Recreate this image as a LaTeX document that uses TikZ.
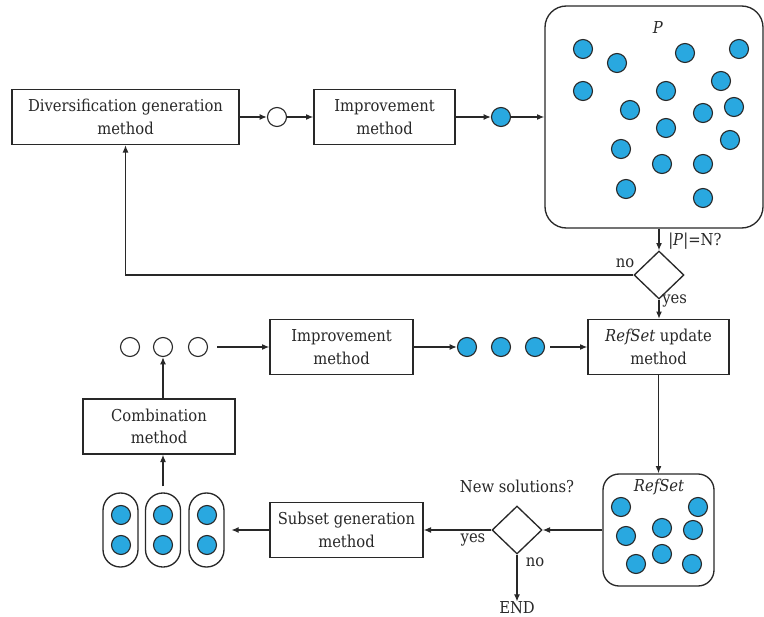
\documentclass[tikz,border=0pt]{standalone}
\usepackage{fontspec}
\setmainfont{DejaVu Serif Condensed}
\usetikzlibrary{shapes.geometric,arrows.meta}
\definecolor{dotblue}{RGB}{41,168,224}
\definecolor{ink}{RGB}{40,40,40}
\begin{document}
\begin{tikzpicture}[x=0.75pt,y=-0.75pt,
  every node/.style={font=\fontsize{12.3}{17}\selectfont, text=ink},
  stepbox/.style={draw=ink, line width=1pt, align=center, minimum height=41.25pt, inner sep=0pt},
  pool/.style={draw=ink, line width=1pt, rounded corners=#1},
  sol/.style={circle, draw=ink, line width=0.85pt, fill=dotblue, minimum size=14.25pt, inner sep=0pt},
  cand/.style={circle, draw=ink, line width=0.85pt, fill=white, minimum size=14.25pt, inner sep=0pt},
  test/.style={diamond, draw=ink, line width=1pt, minimum width=37.5pt, minimum height=36pt, inner sep=0pt, aspect=1},
  capsule/.style={draw=ink, line width=1pt, minimum width=26.25pt, minimum height=55.5pt, rounded corners=13pt, inner sep=0pt},
  arr/.style={draw=ink, line width=1pt, -{Latex[length=5.5pt,width=4.5pt]}},
  lbl/.style={inner sep=0pt}
]
\useasboundingbox (0,0) rectangle (764,617);

% top row
\node[stepbox, minimum width=170.25pt] (div) at (125.5,117) {Diversification generation\\method};
\node[cand] (c0) at (277,117) {};
\node[stepbox, minimum width=105.75pt] (imp1) at (384.5,117) {Improvement\\method};
\node[sol] (s0) at (501,117) {};

% population P
\node[pool=16pt, minimum width=163.5pt, minimum height=166.5pt] (P) at (654,117) {};
\node[lbl] (Plab) at (658,28) {\textit{P}};
\foreach \x/\y [count=\i] in {583/49,617/63,685/53,739/49,583/91,721/81,666/91,630/110,703/113,734/107,666/128,621/149,730/140,662/164,703/164,626/189,703/198}
  \node[sol] (p\i) at (\x,\y) {};

% size test
\node[test] (d1) at (659,275) {};
\node[lbl, anchor=west] (qN) at (668,241) {|\textit{P}|=N?};
\node[lbl] (no1) at (625,263) {no};
\node[lbl, anchor=west] (yes1) at (662,301) {yes};

% middle row
\node[cand] (o1) at (130,347) {};
\node[cand] (o2) at (163,347) {};
\node[cand] (o3) at (198,347) {};
\node[stepbox, minimum width=107.25pt] (imp2) at (341.5,347) {Improvement\\method};
\node[sol] (b1) at (467,347) {};
\node[sol] (b2) at (501,347) {};
\node[sol] (b3) at (535,347) {};
\node[stepbox, minimum width=105.75pt] (rsu) at (658.5,347) {\textit{RefSet} update\\method};

% combination
\node[stepbox, minimum width=114pt] (comb) at (159,426.5) {Combination\\method};

% subsets
\node[capsule] (k1) at (120.5,530) {};
\node[capsule] (k2) at (163,530) {};
\node[capsule] (k3) at (206.5,530) {};
\foreach \x [count=\i] in {121,163,207} {
  \node[sol] (u\i) at (\x,515) {};
  \node[sol] (l\i) at (\x,545) {};
}
\node[stepbox, minimum width=114.75pt] (sub) at (346.5,530) {Subset generation\\method};

% new-solutions test
\node[test] (d2) at (517,530) {};
\node[lbl] (qnew) at (517,486) {New solutions?};
\node[lbl] (yes2) at (473,540) {yes};
\node[lbl] (no2) at (535,562) {no};
\node[lbl] (end) at (517,608) {END};

% reference set
\node[pool=12pt, minimum width=83.25pt, minimum height=84pt] (rs) at (658.5,530) {};
\node[lbl] (rslab) at (659,487) {\textit{RefSet}};
\foreach \x/\y [count=\i] in {621/507,698/507,626/536,662/528,693/530,636/564,662/554,692/564}
  \node[sol] (r\i) at (\x,\y) {};

% connectors
\draw[arr] (div.east) -- (c0.west);
\draw[arr] (c0.east) -- (imp1.west);
\draw[arr] (imp1.east) -- (s0.west);
\draw[arr] (s0.east) -- (s0.east -| P.west);
\draw[arr] (d1.north |- P.south) -- (d1.north);
\draw[arr] (d1.west) -| (div.south);
\draw[arr] (d1.south) -- (d1.south |- rsu.north);
\draw[arr, shorten <=7pt] (o3.east) -- (imp2.west);
\draw[arr] (imp2.east) -- (b1.west);
\draw[arr, shorten <=4pt] (b3.east) -- (rsu.west);
\draw[arr] (rsu.south) -- (rsu.south |- rs.north);
\draw[arr] (rs.west) -- (d2.east);
\draw[arr] (d2.west) -- (sub.east);
\draw[arr, shorten >=5pt] (sub.west) -- (k3.east);
\draw[arr] (d2.south) -- (end.north);
\draw[arr, shorten <=4.5pt] (k2.north) -- (k2.north |- comb.south);
\draw[arr] (o2.south |- comb.north) -- (o2.south);
\end{tikzpicture}
\end{document}
